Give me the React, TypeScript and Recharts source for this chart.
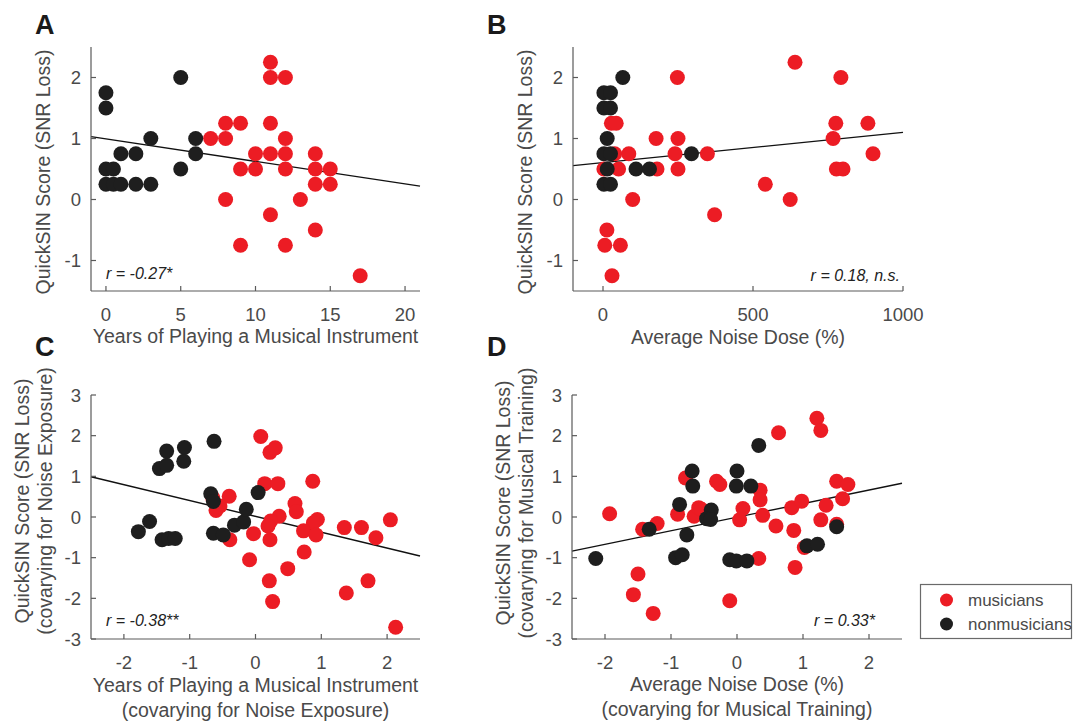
import React from 'react';
import { ScatterChart, Scatter, XAxis, YAxis, ReferenceLine } from 'recharts';

type P = [number, number];

const RED = '#ec1c24';
const BLACK = '#1e1e1e';
const TEXT = '#4a4a4a';
const AXIS = '#5a5a5a';
const FONT = '"Liberation Sans", Arial, Helvetica, sans-serif';

// ---------- Panel A ----------
const aMusicians: P[] = [
  [7, 1], [8, 1.25], [8, 1], [9, 1.25], [11, 2.25], [11, 2], [12, 2], [11, 1.25], [12, 1],
  [10, 0.75], [11, 0.75], [12, 0.75], [9, 0.5], [10, 0.5], [12, 0.5], [14, 0.75], [14, 0.5],
  [15, 0.5], [14, 0.25], [15, 0.25], [8, 0], [13, 0], [11, -0.25], [14, -0.5], [9, -0.75],
  [12, -0.75], [17, -1.25],
];
const aNonmusicians: P[] = [
  [0, 1.75], [0, 1.5], [0, 0.5], [0.5, 0.5], [0, 0.25], [0.5, 0.25], [1, 0.25], [1, 0.75],
  [2, 0.75], [2, 0.25], [3, 0.25], [3, 1], [5, 2], [5, 0.5], [6, 1], [6, 0.75],
];
const aFit: P[] = [[-1, 1.03], [21, 0.22]];
const aXTicks = [0, 5, 10, 15, 20];
const aXDomain: P = [-1, 21];

// ---------- Panel B ----------
const bMusicians: P[] = [
  [248, 2], [640, 2.25], [793, 2], [28, 1.25], [44, 1.25], [177, 1], [250, 1], [767, 1],
  [776, 1.25], [883, 1.25], [900, 0.75], [39, 0.75], [86, 0.75], [240, 0.75], [348, 0.75],
  [3, 0.5], [52, 0.5], [180, 0.5], [250, 0.5], [778, 0.5], [800, 0.5], [99, 0], [541, 0.25],
  [624, 0], [372, -0.25], [13, -0.5], [6, -0.75], [58, -0.75], [30, -1.25],
];
const bNonmusicians: P[] = [
  [66, 2], [3, 1.75], [25, 1.75], [3, 1.5], [25, 1.5], [14, 1], [3, 0.75], [25, 0.75],
  [14, 0.5], [3, 0.25], [25, 0.25], [110, 0.5], [155, 0.5], [295, 0.75],
];
const bFit: P[] = [[-100, 0.555], [1000, 1.1]];
const bXTicks = [0, 500, 1000];
const bXDomain: P = [-100, 1000];

const abYTicks = [-1, 0, 1, 2];
const abYDomain: P = [-1.5, 2.5];

// ---------- Panel C ----------
const cMusicians: P[] = [
  [0.08, 1.98], [0.22, 1.59], [0.3, 1.7], [0.14, 0.82], [0.34, 0.82], [0.87, 0.88],
  [-0.4, 0.51], [-0.65, 0.47], [-0.54, 0.27], [-0.6, 0.16], [0.6, 0.33], [0.62, 0.13],
  [0.36, 0.02], [0.23, -0.1], [0.19, -0.22], [0.94, -0.06], [0.88, -0.14], [0.73, -0.34],
  [0.92, -0.44], [-0.03, -0.41], [-0.39, -0.56], [0.22, -0.56], [1.35, -0.26], [1.61, -0.26],
  [1.83, -0.51], [2.05, -0.07], [0.74, -0.86], [-0.09, -1.05], [0.49, -1.27], [0.21, -1.57],
  [0.26, -2.08], [1.38, -1.87], [1.71, -1.57], [2.13, -2.71],
];
const cNonmusicians: P[] = [
  [-1.78, -0.36], [-1.61, -0.11], [-1.42, -0.56], [-1.32, -0.53], [-1.22, -0.53],
  [-1.46, 1.19], [-1.35, 1.27], [-1.35, 1.62], [-1.08, 1.71], [-1.09, 1.37], [-0.63, 1.86],
  [-0.68, 0.57], [-0.64, 0.38], [-0.64, -0.4], [-0.49, -0.44], [-0.32, -0.2], [-0.18, -0.12],
  [-0.14, 0.19], [0.04, 0.6],
];
const cFit: P[] = [[-2.5, 0.99], [2.5, -0.96]];

// ---------- Panel D ----------
const dMusicians: P[] = [
  [-1.93, 0.08], [-1.43, -0.3], [-1.21, -0.16], [-1.5, -1.4], [-1.57, -1.91], [-1.27, -2.37],
  [-0.9, 0.07], [-0.78, 0.96], [-0.65, 0.02], [-0.58, 0.23], [-0.54, 0.19], [-0.31, 0.88],
  [-0.26, 0.8], [-0.11, -2.06], [0.04, -0.07], [0.09, 0.21], [0.35, 0.66], [0.35, 0.42],
  [0.39, 0.04], [0.33, -1.02], [0.59, -0.22], [0.63, 2.07], [0.86, -0.33], [0.83, 0.23],
  [0.98, 0.39], [0.88, -1.24], [1.02, -0.75], [1.21, 2.43], [1.27, 2.13], [1.27, -0.07],
  [1.35, 0.29], [1.51, 0.88], [1.6, 0.45], [1.68, 0.8], [1.51, -0.18],
];
const dNonmusicians: P[] = [
  [-2.14, -1.02], [-1.33, -0.3], [-0.76, -0.44], [-0.93, -1.0], [-0.83, -0.93], [-0.87, 0.31],
  [-0.68, 1.13], [-0.67, 0.76], [-0.39, 0.17], [-0.46, -0.04], [-0.4, -0.06], [0.0, 1.13],
  [-0.01, 0.76], [0.21, 0.76], [0.33, 1.76], [-0.11, -1.05], [-0.01, -1.08], [0.15, -1.08],
  [1.06, -0.71], [1.22, -0.67], [1.51, -0.24],
];
const dFit: P[] = [[-2.5, -0.84], [2.5, 0.83]];

const cdXTicks = [-2, -1, 0, 1, 2];
const cdXDomain: P = [-2.5, 2.5];
const cdYTicks = [-3, -2, -1, 0, 1, 2, 3];
const cdYDomain: P = [-3, 3];

const toObj = (arr: P[]) => arr.map(([x, y]) => ({ x, y }));

const dot = (color: string) => (props: any) => (
  <circle cx={props.cx} cy={props.cy} r={7.5} fill={color} stroke="none" />
);

interface PanelProps {
  left: number;
  top: number;
  width: number;
  height: number;
  margin: { top: number; right: number; bottom: number; left: number };
  yAxisWidth: number;
  xDomain: P;
  yDomain: P;
  xTicks: number[];
  yTicks: number[];
  musicians: P[];
  nonmusicians: P[];
  fit: P[];
}

const tickStyle = { fill: TEXT, fontSize: 18.5, fontFamily: FONT };

function Panel(p: PanelProps) {
  return (
    <div style={{ position: 'absolute', left: p.left, top: p.top, width: p.width, height: p.height }}>
      <ScatterChart width={p.width} height={p.height} margin={p.margin}>
        <XAxis
          type="number"
          dataKey="x"
          domain={p.xDomain}
          ticks={p.xTicks}
          interval={0}
          allowDataOverflow
          height={30}
          axisLine={{ stroke: AXIS, strokeWidth: 1.2 }}
          tickLine={{ stroke: AXIS, strokeWidth: 1.2 }}
          tickSize={-5}
          tickMargin={22}
          tick={tickStyle}
        />
        <YAxis
          type="number"
          dataKey="y"
          domain={p.yDomain}
          ticks={p.yTicks}
          interval={0}
          allowDataOverflow
          width={p.yAxisWidth}
          axisLine={{ stroke: AXIS, strokeWidth: 1.2 }}
          tickLine={{ stroke: AXIS, strokeWidth: 1.2 }}
          tickSize={-5}
          tickMargin={15}
          tick={tickStyle}
        />
        <Scatter
          name="musicians"
          data={toObj(p.musicians)}
          fill={RED}
          shape={dot(RED)}
          isAnimationActive={false}
        />
        <Scatter
          name="nonmusicians"
          data={toObj(p.nonmusicians)}
          fill={BLACK}
          shape={dot(BLACK)}
          isAnimationActive={false}
        />
        <ReferenceLine
          segment={[
            { x: p.fit[0][0], y: p.fit[0][1] },
            { x: p.fit[1][0], y: p.fit[1][1] },
          ]}
          stroke="#111"
          strokeWidth={1.4}
        />
      </ScatterChart>
    </div>
  );
}

const titleStyle = { fill: TEXT, fontSize: 19.5, fontFamily: FONT } as const;
const statStyle = { fill: '#222', fontSize: 16, fontFamily: FONT, fontStyle: 'italic' } as const;
const letterStyle = { fill: '#1a1a1a', fontSize: 27, fontFamily: FONT, fontWeight: 700 } as const;

export default function App() {
  return (
    <div
      style={{
        position: 'absolute',
        left: 0,
        top: 0,
        width: 1075,
        height: 722,
        background: '#fff',
        overflow: 'hidden',
        fontFamily: FONT,
      }}
    >
      <Panel
        left={0} top={0} width={470} height={360}
        margin={{ top: 47, right: 50, bottom: 39, left: 0 }}
        yAxisWidth={91}
        xDomain={aXDomain} yDomain={abYDomain} xTicks={aXTicks} yTicks={abYTicks}
        musicians={aMusicians} nonmusicians={aNonmusicians} fit={aFit}
      />
      <Panel
        left={480} top={0} width={470} height={360}
        margin={{ top: 47, right: 47, bottom: 39, left: 0 }}
        yAxisWidth={93}
        xDomain={bXDomain} yDomain={abYDomain} xTicks={bXTicks} yTicks={abYTicks}
        musicians={bMusicians} nonmusicians={bNonmusicians} fit={bFit}
      />
      <Panel
        left={0} top={360} width={470} height={362}
        margin={{ top: 35, right: 50, bottom: 53, left: 0 }}
        yAxisWidth={91}
        xDomain={cdXDomain} yDomain={cdYDomain} xTicks={cdXTicks} yTicks={cdYTicks}
        musicians={cMusicians} nonmusicians={cNonmusicians} fit={cFit}
      />
      <Panel
        left={480} top={360} width={470} height={362}
        margin={{ top: 35, right: 48, bottom: 53, left: 0 }}
        yAxisWidth={92}
        xDomain={cdXDomain} yDomain={cdYDomain} xTicks={cdXTicks} yTicks={cdYTicks}
        musicians={dMusicians} nonmusicians={dNonmusicians} fit={dFit}
      />
      <svg
        width={1075}
        height={722}
        style={{ position: 'absolute', left: 0, top: 0, pointerEvents: 'none' }}
      >
        {/* panel letters */}
        <text x={35} y={34} style={letterStyle}>A</text>
        <text x={487} y={34} style={letterStyle}>B</text>
        <text x={35} y={356} style={letterStyle}>C</text>
        <text x={487} y={356} style={letterStyle}>D</text>

        {/* y-axis titles */}
        <text transform="translate(43,172) rotate(-90)" textAnchor="middle" dominantBaseline="central" style={titleStyle}>
          QuickSIN Score (SNR Loss)
        </text>
        <text transform="translate(525,172) rotate(-90)" textAnchor="middle" dominantBaseline="central" style={titleStyle}>
          QuickSIN Score (SNR Loss)
        </text>
        <text transform="translate(22,501) rotate(-90)" textAnchor="middle" dominantBaseline="central" style={titleStyle}>
          QuickSIN Score (SNR Loss)
        </text>
        <text transform="translate(45,501) rotate(-90)" textAnchor="middle" dominantBaseline="central" style={titleStyle}>
          (covarying for Noise Exposure)
        </text>
        <text transform="translate(503,503) rotate(-90)" textAnchor="middle" dominantBaseline="central" style={titleStyle}>
          QuickSIN Score (SNR Loss)
        </text>
        <text transform="translate(526,503) rotate(-90)" textAnchor="middle" dominantBaseline="central" style={titleStyle}>
          (covarying for Musical Training)
        </text>

        {/* x-axis titles */}
        <text x={255.5} y={336} textAnchor="middle" dominantBaseline="central" style={titleStyle}>
          Years of Playing a Musical Instrument
        </text>
        <text x={738} y={337} textAnchor="middle" dominantBaseline="central" style={titleStyle}>
          Average Noise Dose (%)
        </text>
        <text x={255.5} y={685} textAnchor="middle" dominantBaseline="central" style={titleStyle}>
          Years of Playing a Musical Instrument
        </text>
        <text x={255.5} y={710} textAnchor="middle" dominantBaseline="central" style={titleStyle}>
          (covarying for Noise Exposure)
        </text>
        <text x={737} y={684} textAnchor="middle" dominantBaseline="central" style={titleStyle}>
          Average Noise Dose (%)
        </text>
        <text x={737} y={709} textAnchor="middle" dominantBaseline="central" style={titleStyle}>
          (covarying for Musical Training)
        </text>

        {/* correlation labels */}
        <text x={106} y={273} dominantBaseline="central" style={statStyle}>r = -0.27*</text>
        <text x={900} y={275} textAnchor="end" dominantBaseline="central" style={statStyle}>r = 0.18, n.s.</text>
        <text x={106} y={620} dominantBaseline="central" style={statStyle}>r = -0.38**</text>
        <text x={875} y={620} textAnchor="end" dominantBaseline="central" style={statStyle}>r = 0.33*</text>

        {/* legend */}
        <rect x={920.5} y={584.5} width={151} height={54} fill="#fff" stroke="#6a6a6a" strokeWidth={1.2} />
        <circle cx={946.5} cy={600} r={6.5} fill={RED} />
        <circle cx={946.5} cy={624} r={6.5} fill={BLACK} />
        <text x={968} y={600} dominantBaseline="central" style={{ fill: TEXT, fontSize: 17, fontFamily: FONT }}>musicians</text>
        <text x={968} y={624} dominantBaseline="central" style={{ fill: TEXT, fontSize: 17, fontFamily: FONT }}>nonmusicians</text>
      </svg>
    </div>
  );
}
